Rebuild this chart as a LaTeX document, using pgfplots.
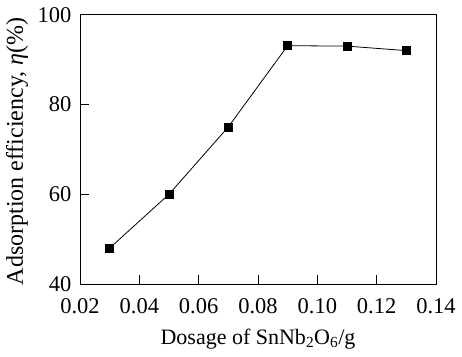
\documentclass[border=0pt]{standalone}
\usepackage{fontspec}
\setmainfont{Liberation Serif}
\usepackage{pgfplots}
\pgfplotsset{compat=1.18}
\begin{document}
\begin{tikzpicture}
\fontsize{22}{26}\selectfont
\begin{axis}[
  at={(0,0)}, anchor=south west,
  scale only axis,
  width=356pt, height=269.3pt,
  xmin=0.02, xmax=0.14,
  ymin=40, ymax=100,
  xtick={0.02,0.04,0.06,0.08,0.10,0.12,0.14},
  ytick={40,60,80,100},
  xtick pos=bottom, ytick pos=left,
  tick align=inside,
  major tick length=9pt,
  every tick/.style={black, line width=0.9pt},
  axis line style={black, line width=0.9pt},
  tick label style={font=\fontsize{22.5}{26}\selectfont},
  /pgf/number format/assume math mode=true,
  xticklabel style={/pgf/number format/.cd, fixed, fixed zerofill, precision=2, /tikz/.cd, anchor=base, yshift=-29pt},
  scaled x ticks=false,
  yticklabel style={anchor=east, xshift=-1pt},
  xlabel={Dosage of SnNb\textsubscript{2}O\textsubscript{6}/g},
  ylabel={Adsorption efficiency, \textit{η}(\%)},
  xlabel style={at={([yshift=-60pt]axis description cs:0.5,0)}, anchor=base, font=\fontsize{22}{26}\selectfont},
  ylabel style={at={([xshift=-57pt,yshift=-2pt]axis description cs:0,0.5)}, anchor=base, rotate=0, font=\fontsize{24}{28}\selectfont},
]
\addplot[black, line width=0.8pt, mark=square*, mark size=4pt, mark options={solid, fill=black}]
  coordinates {(0.03,48) (0.05,60) (0.07,75) (0.09,93.1) (0.11,93) (0.13,92)};
\end{axis}
\pgfresetboundingbox
\path (-80pt,-72pt) rectangle (382pt,284pt);
\end{tikzpicture}
\end{document}
